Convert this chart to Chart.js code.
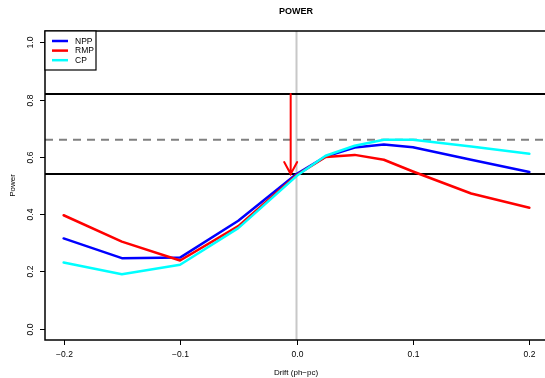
<!DOCTYPE html>
<html>
<head>
<meta charset="utf-8">
<script src="https://cdn.jsdelivr.net/npm/chart.js@4/dist/chart.umd.min.js"></script>
<style>
  html, body { margin: 0; padding: 0; background: #fff; overflow: hidden; }
  #wrap { width: 545px; height: 378px; overflow: hidden; }
</style>
</head>
<body>
<div id="wrap"><canvas id="powerChart" width="560" height="378"></canvas></div>
<script>
// values
const drift = [-0.2, -0.15, -0.1, -0.05, 0, 0.025, 0.05, 0.075, 0.1, 0.15, 0.2];
const npp = [0.315, 0.246, 0.248, 0.377, 0.540, 0.601, 0.633, 0.643, 0.634, 0.590, 0.547];
const rmp = [0.396, 0.304, 0.238, 0.358, 0.536, 0.600, 0.607, 0.590, 0.549, 0.472, 0.422];
const cp = [0.231, 0.190, 0.223, 0.351, 0.533, 0.604, 0.639, 0.660, 0.660, 0.636, 0.611];

const xTicks = [-0.2, -0.1, 0, 0.1, 0.2];
const yTicks = [0, 0.2, 0.4, 0.6, 0.8, 1.0];
const xTickLabels = ['\u22120.2', '\u22120.1', '0.0', '0.1', '0.2'];
const yTickLabels = ['0.0', '0.2', '0.4', '0.6', '0.8', '1.0'];

const solidLines = [0.82, 0.54];
const dashedLine = 0.66;
const vLine = 0;
const arrowX = -0.005;
const arrowFrom = 0.82;
const arrowTo = 0.54;

const seriesNames = ['NPP', 'RMP', 'CP'];
const seriesColors = ['#0000ff', '#ff0000', '#00ffff'];

const FONT = '"Liberation Sans", Arial, Helvetica, sans-serif';

function toPoints(ys) {
    return drift.map((x, i) => ({ x: x, y: ys[i] }));
}

const rPlot = {
    id: 'rPlot',
    beforeDatasetsDraw(chart) {
        const ctx = chart.ctx;
        const xs = chart.scales.x, ys = chart.scales.y;
        const a = chart.chartArea;
        ctx.save();
        // vertical grey line at drift 0
        ctx.strokeStyle = '#c8c8c8';
        ctx.lineWidth = 2;
        const vx = xs.getPixelForValue(vLine);
        ctx.beginPath();
        ctx.moveTo(vx, a.top);
        ctx.lineTo(vx, a.bottom);
        ctx.stroke();
        // dashed reference
        ctx.strokeStyle = '#808080';
        ctx.setLineDash([8, 6]);
        const dy = ys.getPixelForValue(dashedLine);
        ctx.beginPath();
        ctx.moveTo(a.left, dy);
        ctx.lineTo(a.right, dy);
        ctx.stroke();
        ctx.setLineDash([]);
        // black reference lines
        ctx.strokeStyle = '#000';
        solidLines.forEach(v => {
            const py = ys.getPixelForValue(v);
            ctx.beginPath();
            ctx.moveTo(a.left, py);
            ctx.lineTo(a.right, py);
            ctx.stroke();
        });
        ctx.restore();
    },
    afterDatasetsDraw(chart) {
        const ctx = chart.ctx;
        const xs = chart.scales.x, ys = chart.scales.y;
        const a = chart.chartArea;
        ctx.save();

        // red arrow
        const ax = xs.getPixelForValue(arrowX);
        const y0 = ys.getPixelForValue(arrowFrom);
        const y1 = ys.getPixelForValue(arrowTo);
        ctx.strokeStyle = '#ff0000';
        ctx.lineWidth = 2;
        ctx.lineCap = 'round';
        ctx.beginPath();
        ctx.moveTo(ax, y0);
        ctx.lineTo(ax, y1);
        ctx.moveTo(ax - 6.5, y1 - 12);
        ctx.lineTo(ax, y1);
        ctx.lineTo(ax + 6.5, y1 - 12);
        ctx.stroke();

        // box
        ctx.strokeStyle = '#000';
        ctx.lineWidth = 1.5;
        ctx.lineCap = 'butt';
        ctx.strokeRect(a.left, a.top, a.right - a.left, a.bottom - a.top);

        // ticks and labels
        ctx.fillStyle = '#000';
        ctx.font = '8.5px ' + FONT;
        ctx.lineWidth = 1;
        xTicks.forEach((v, i) => {
            const px = Math.round(xs.getPixelForValue(v)) + 0.5;
            ctx.beginPath();
            ctx.moveTo(px, a.bottom);
            ctx.lineTo(px, a.bottom + 5);
            ctx.stroke();
            ctx.textAlign = 'center';
            ctx.textBaseline = 'middle';
            ctx.fillText(xTickLabels[i], px, a.bottom + 15);
        });
        yTicks.forEach((v, i) => {
            const py = Math.round(ys.getPixelForValue(v)) + 0.5;
            ctx.beginPath();
            ctx.moveTo(a.left - 5, py);
            ctx.lineTo(a.left, py);
            ctx.stroke();
            ctx.save();
            ctx.translate(31, py);
            ctx.rotate(-Math.PI / 2);
            ctx.textAlign = 'center';
            ctx.textBaseline = 'middle';
            ctx.fillText(yTickLabels[i], 0, 0);
            ctx.restore();
        });

        // titles
        ctx.font = 'bold 9px ' + FONT;
        ctx.textAlign = 'center';
        ctx.textBaseline = 'middle';
        ctx.fillText('POWER', 296, 12);
        ctx.font = '8px ' + FONT;
        ctx.fillText('Drift (ph\u2212pc)', 296, 373);
        ctx.save();
        ctx.translate(12.5, (a.top + a.bottom) / 2);
        ctx.rotate(-Math.PI / 2);
        ctx.fillText('Power', 0, 0);
        ctx.restore();

        // legend
        ctx.fillStyle = '#fff';
        ctx.fillRect(a.left, a.top, 51, 39);
        ctx.strokeStyle = '#000';
        ctx.lineWidth = 1.2;
        ctx.strokeRect(a.left, a.top, 51, 39);
        ctx.font = '8.5px ' + FONT;
        ctx.textAlign = 'left';
        seriesNames.forEach((name, i) => {
            const ly = a.top + 10 + i * 9.6;
            ctx.strokeStyle = seriesColors[i];
            ctx.lineWidth = 2.5;
            ctx.beginPath();
            ctx.moveTo(a.left + 7, ly);
            ctx.lineTo(a.left + 23, ly);
            ctx.stroke();
            ctx.fillStyle = '#000';
            ctx.fillText(name, a.left + 30, ly + 0.5);
        });
        ctx.restore();
    }
};

const datasetFor = (ys, i, order) => ({
    label: seriesNames[i],
    data: toPoints(ys),
    borderColor: seriesColors[i],
    borderWidth: 2.5,
    pointRadius: 0,
    tension: 0,
    fill: false,
    borderCapStyle: 'round',
    borderJoinStyle: 'round',
    order: order
});

new Chart(document.getElementById('powerChart'), {
    type: 'line',
    data: {
        datasets: [
            datasetFor(npp, 0, 2),
            datasetFor(rmp, 1, 1),
            datasetFor(cp, 2, 0)
        ]
    },
    options: {
        responsive: false,
        animation: false,
        layout: { padding: { top: 31, right: 12, left: 0, bottom: 0 } },
        plugins: { legend: { display: false }, tooltip: { enabled: false }, title: { display: false } },
        scales: {
            x: {
                type: 'linear',
                min: -0.216,
                max: 0.216,
                grid: { display: false },
                border: { display: false },
                ticks: { display: false },
                afterBuildTicks: s => { s.ticks = xTicks.map(v => ({ value: v })); },
                afterFit: s => { s.height = 38; }
            },
            y: {
                type: 'linear',
                min: -0.04,
                max: 1.04,
                grid: { display: false },
                border: { display: false },
                ticks: { display: false },
                afterBuildTicks: s => { s.ticks = yTicks.map(v => ({ value: v })); },
                afterFit: s => { s.width = 45; }
            }
        }
    },
    plugins: [rPlot]
});
</script>
</body>
</html>
